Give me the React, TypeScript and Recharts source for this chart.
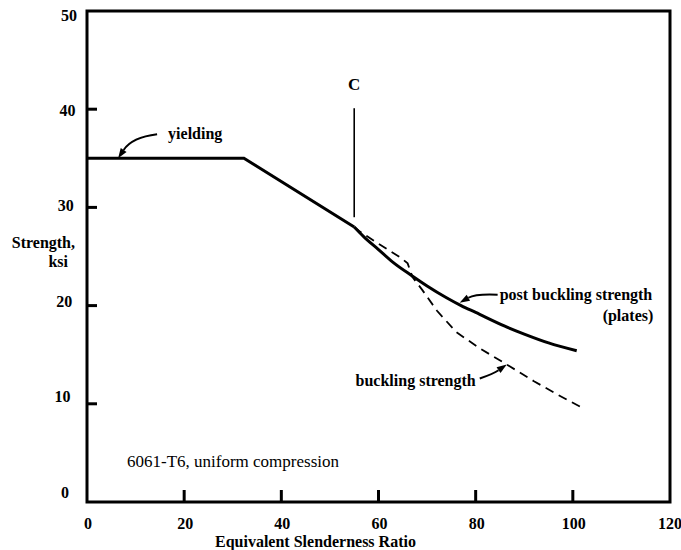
import React from 'react';
import { LineChart, Line, XAxis, YAxis, ReferenceArea, ReferenceLine, ReferenceDot } from 'recharts';

// yielding plateau + linear drop down to point C
const yieldX = [0, 32.3, 55];
const yieldY = [35, 35, 28];

// post buckling strength (plates), solid
const postX = [55, 57, 60, 63, 67, 70, 74, 77, 80, 86, 90, 95, 100.8];
const postY = [28, 27, 25.7, 24.4, 23, 22, 20.8, 20, 19.3, 17.9, 17.1, 16.2, 15.4];

// buckling strength, dashed
const buckX = [55, 56, 60, 64.5, 66, 67, 69, 72, 76, 81, 86.4, 92, 97, 101.9];
const buckY = [28, 27.6, 26.3, 24.9, 24.3, 22.9, 21.6, 19.5, 17.3, 15.6, 14, 12.3, 10.9, 9.6];

const xTicks = [0, 20, 40, 60, 80, 100, 120];
const yTicks = [0, 10, 20, 30, 40, 50];

const cLine = { x: 55, y1: 29, y2: 40.1 };

const toPts = (xs: number[], ys: number[]) => xs.map((x, i) => ({ x, y: ys[i] }));
const yieldData = toPts(yieldX, yieldY);
const postData = toPts(postX, postY);
const buckData = toPts(buckX, buckY);

const FONT = "'Liberation Serif', Tinos, 'Times New Roman', Times, 'DejaVu Serif', serif";
const T = (p: any) => (
  <text fontFamily={FONT} fontWeight={700} fontSize={16} fill="#000" {...p} />
);

const YTick = (props: any) => {
  const { x, y, payload } = props;
  const v = payload.value;
  const edge = v === 0 || v === 50;
  // the scanned original is slightly rotated, labels drift a little with height
  const lx = x - 6 + v * 0.16;
  const ly = -10 + v * 0.28;
  return (
    <g>
      {!edge && <line x1={x + 12} x2={x + 22} y1={y} y2={y} stroke="#000" strokeWidth={3} />}
      <T x={lx} y={y} dy={ly} textAnchor="end" dominantBaseline="central">{v}</T>
    </g>
  );
};

const XTick = (props: any) => {
  const { x, y, payload } = props;
  const edge = payload.value === 0 || payload.value === 120;
  const axisY = y - 21;
  return (
    <g>
      {!edge && <line x1={x} x2={x} y1={axisY} y2={axisY - 12} stroke="#000" strokeWidth={3} />}
      <T x={x + 1} y={y} textAnchor="middle" dominantBaseline="central">{payload.value}</T>
    </g>
  );
};

// curved arrow whose tip sits on the data point; tail / control given as pixel offsets
const arrow = (tail: [number, number], ctrl: [number, number], labels: { dx: number; dy: number; text: string; anchor?: string }[]) =>
  (p: any) => {
    const { cx, cy } = p;
    let ux = -ctrl[0], uy = -ctrl[1];
    const len = Math.hypot(ux, uy) || 1;
    ux /= len; uy /= len;
    const hl = 10, hw = 3.5;
    const bx = cx - ux * hl, by = cy - uy * hl;
    return (
      <g>
        <path d={`M${cx + tail[0]},${cy + tail[1]} Q${cx + ctrl[0]},${cy + ctrl[1]} ${bx},${by}`} fill="none" stroke="#000" strokeWidth={2} />
        <polygon points={`${cx},${cy} ${bx - uy * hw},${by + ux * hw} ${bx + uy * hw},${by - ux * hw}`} fill="#000" />
        {labels.map((l, i) => (
          <T key={i} x={cx + l.dx} y={cy + l.dy} textAnchor={l.anchor || 'start'}>{l.text}</T>
        ))}
      </g>
    );
  };

const cLabel = (p: any) => (
  <T x={p.cx} y={p.cy - 24} textAnchor="middle" dominantBaseline="central" fontSize={17}>C</T>
);

export default function App() {
  return (
    <div style={{ position: 'absolute', left: 0, top: 0, background: '#fff' }}>
      <LineChart width={681} height={550} margin={{ top: 11, right: 11, left: 47, bottom: 18 }}>
        <XAxis
          dataKey="x"
          type="number"
          domain={[0, 120]}
          ticks={xTicks}
          allowDataOverflow
          height={30}
          axisLine={false}
          tickLine={false}
          tickSize={0}
          tickMargin={21}
          tick={<XTick />}
          label={{
            content: (p: any) => (
              <T x={p.viewBox.x + 128} y={p.viewBox.y + 45}>Equivalent Slenderness Ratio</T>
            ),
          }}
        />
        <YAxis
          type="number"
          domain={[0, 50]}
          ticks={yTicks}
          allowDataOverflow
          width={40}
          axisLine={false}
          tickLine={false}
          tickSize={0}
          tickMargin={12}
          tick={<YTick />}
          label={{
            content: (p: any) => (
              <g>
                <T x={p.viewBox.x + 28} y={p.viewBox.y + 237} textAnchor="end">Strength,</T>
                <T x={p.viewBox.x + 21} y={p.viewBox.y + 256} textAnchor="end">ksi</T>
              </g>
            ),
          }}
        />
        <ReferenceArea x1={0} x2={120} y1={0} y2={50} fill="none" stroke="#000" strokeWidth={3} fillOpacity={0} />
        <ReferenceLine segment={[{ x: cLine.x, y: cLine.y1 }, { x: cLine.x, y: cLine.y2 }]} stroke="#000" strokeWidth={1.6} />
        <ReferenceDot x={cLine.x} y={cLine.y2} r={1} shape={cLabel} />

        <Line data={yieldData} dataKey="y" type="linear" stroke="#000" strokeWidth={3} dot={false} isAnimationActive={false} />
        <Line data={postData} dataKey="y" type="monotone" stroke="#000" strokeWidth={3} dot={false} isAnimationActive={false} />
        <Line data={buckData} dataKey="y" type="linear" stroke="#000" strokeWidth={1.8} strokeDasharray="9 6" dot={false} isAnimationActive={false} />

        <ReferenceDot x={6.4} y={35} r={1} shape={arrow([39, -24], [14, -21], [{ dx: 50, dy: -19, text: 'yielding' }])} />
        <ReferenceDot
          x={76.7}
          y={20.3}
          r={1}
          shape={arrow([38, -8], [16, -9], [
            { dx: 40, dy: -3, text: 'post buckling strength' },
            { dx: 143, dy: 18, text: '(plates)' },
          ])}
        />
        <ReferenceDot x={86.4} y={14} r={1} shape={arrow([-27, 14], [-13, 9], [{ dx: -31, dy: 21, text: 'buckling strength', anchor: 'end' }])} />
        <ReferenceDot
          x={0}
          y={0}
          r={1}
          shape={(p: any) => (
            <T x={p.cx + 40} y={p.cy - 35} fontWeight={400} fontSize={17}>6061-T6, uniform compression</T>
          )}
        />
      </LineChart>
    </div>
  );
}
